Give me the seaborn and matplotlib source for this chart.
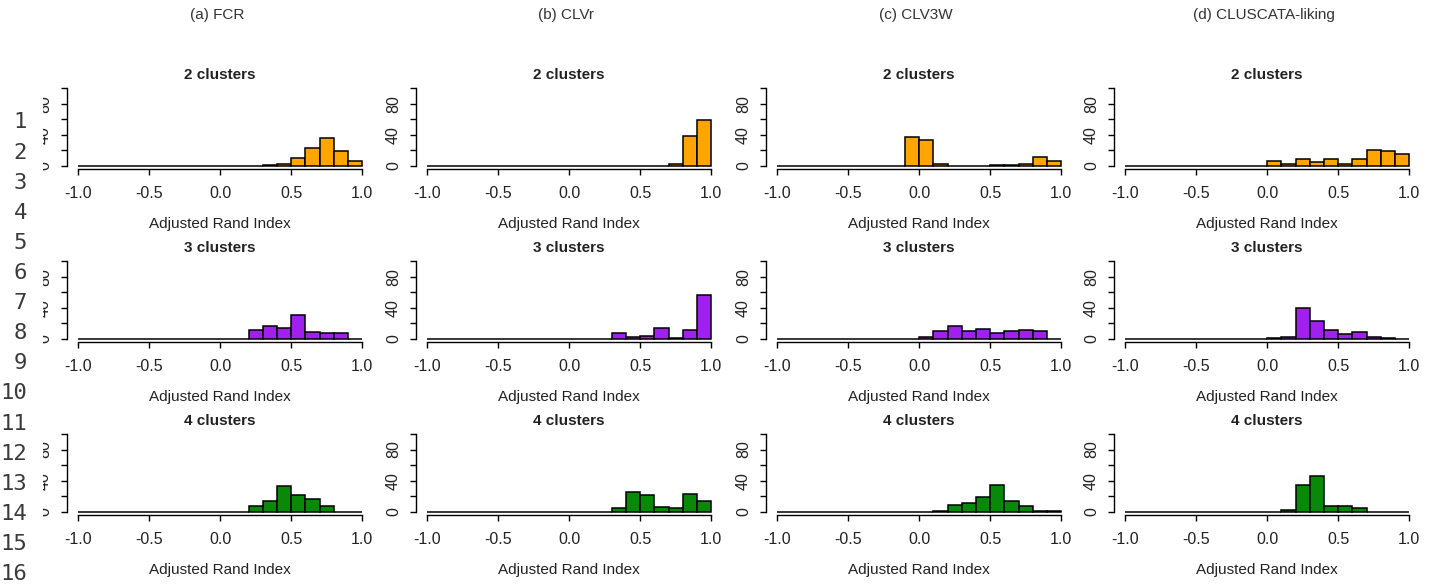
import numpy as np
import pandas as pd
import matplotlib
matplotlib.use("Agg")
import matplotlib.pyplot as plt
from matplotlib.patches import Rectangle
import seaborn as sns

# histogram counts, 20 bins of width 0.1 from -1.0 to 1.0
fcr_k2 = [0, 0, 0, 0, 0, 0, 0, 0, 0, 0, 0, 0, 0, 1, 3, 10, 23, 36, 19, 6]
fcr_k3 = [0, 0, 0, 0, 0, 0, 0, 0, 0, 0, 0, 0, 12, 17, 14, 31, 9, 8, 8, 0]
fcr_k4 = [0, 0, 0, 0, 0, 0, 0, 0, 0, 0, 0, 0, 8, 14, 33, 22, 17, 8, 0, 0]

clvr_k2 = [0, 0, 0, 0, 0, 0, 0, 0, 0, 0, 0, 0, 0, 0, 0, 0, 0, 2, 39, 59]
clvr_k3 = [0, 0, 0, 0, 0, 0, 0, 0, 0, 0, 0, 0, 0, 8, 3, 4, 14, 1, 12, 57]
clvr_k4 = [0, 0, 0, 0, 0, 0, 0, 0, 0, 0, 0, 0, 0, 5, 25, 22, 6, 5, 23, 14]

clv3w_k2 = [0, 0, 0, 0, 0, 0, 0, 0, 0, 37, 33, 3, 0, 0, 0, 1, 1, 3, 12, 7]
clv3w_k3 = [0, 0, 0, 0, 0, 0, 0, 0, 0, 0, 2, 10, 17, 10, 13, 8, 10, 12, 10, 0]
clv3w_k4 = [0, 0, 0, 0, 0, 0, 0, 0, 0, 0, 0, 1, 9, 12, 19, 34, 14, 8, 1, 1]

clus_k2 = [0, 0, 0, 0, 0, 0, 0, 0, 0, 0, 6, 3, 9, 5, 9, 3, 9, 21, 19, 16]
clus_k3 = [0, 0, 0, 0, 0, 0, 0, 0, 0, 0, 1, 3, 40, 23, 12, 6, 9, 3, 1, 0]
clus_k4 = [0, 0, 0, 0, 0, 0, 0, 0, 0, 0, 0, 3, 34, 46, 7, 7, 5, 0, 0, 0]

methods = ["(a) FCR", "(b) CLVr", "(c) CLV3W", "(d) CLUSCATA-liking"]
counts = [
    [fcr_k2, fcr_k3, fcr_k4],
    [clvr_k2, clvr_k3, clvr_k4],
    [clv3w_k2, clv3w_k3, clv3w_k4],
    [clus_k2, clus_k3, clus_k4],
]
row_titles = ["2 clusters", "3 clusters", "4 clusters"]
row_colors = ["#FFA500", "#A020F0", "#088A08"]

centers = np.round(np.arange(-0.95, 1.0, 0.1), 2)

sns.set_style("white")
plt.rcParams["font.family"] = ["Liberation Sans", "DejaVu Sans"]

W, H = 1439, 584
fig = plt.figure(figsize=(W / 100, H / 100), dpi=100)

col_left = [66.6, 415.6, 765.6, 1113.6]
row_top = [84.9, 257.9, 430.8]
ax_w, ax_h = 307, 84.2
txt = "#222222"

for c, method in enumerate(methods):
    for r in range(3):
        ax = fig.add_axes([col_left[c] / W, 1 - (row_top[r] + ax_h) / H, ax_w / W, ax_h / H])
        df = pd.DataFrame({"ari": centers, "n": counts[c][r]})
        sns.histplot(data=df, x="ari", weights="n", binwidth=0.1, binrange=(-1, 1),
                     color=row_colors[r], edgecolor="black", linewidth=1.1, alpha=1, ax=ax)
        ax.set_xlim(-1.08, 1.08)
        ax.set_ylim(-4, 104)
        ax.set_xticks([-1, -0.5, 0, 0.5, 1])
        ax.set_xticklabels(["-1.0", "-0.5", "0.0", "0.5", "1.0"])
        ax.set_yticks([0, 20, 40, 60, 80, 100])
        ax.set_yticklabels(["0", "", "40", "", "80", ""], rotation=90, va="center")
        for s in ["top", "right"]:
            ax.spines[s].set_visible(False)
        ax.spines["left"].set_bounds(0, 100)
        ax.spines["bottom"].set_bounds(-1, 1)
        for s in ["left", "bottom"]:
            ax.spines[s].set_color("black")
            ax.spines[s].set_linewidth(1.0)
        ax.tick_params(axis="both", length=4.5, width=1.0, color="black",
                       labelsize=11.5, labelcolor=txt, left=True, bottom=True)
        ax.tick_params(axis="x", pad=7.5)
        ax.tick_params(axis="y", pad=6)
        ax.set_ylabel("")
        ax.set_xlabel("Adjusted Rand Index", fontsize=11, color=txt, labelpad=12)
        ax.set_title(row_titles[r], fontsize=11, fontweight="bold", color=txt, pad=4)
        ax.patch.set_alpha(0)
    fig.text((col_left[c] + ax_w / 2 - 3) / W, 1 - 15 / H, method,
             ha="center", va="center", fontsize=11, color="#333333")

# line-number gutter on the left edge
fig.add_artist(Rectangle((0, 0), 43 / W, 1, transform=fig.transFigure,
                         facecolor="white", edgecolor="none", zorder=10))
for n in range(1, 17):
    y = 122.5 + (n - 1) * 30.1
    fig.text(27 / W, 1 - y / H, str(n), ha="right", va="center",
             fontsize=16, family="DejaVu Sans Mono", color="#3a3a3a", zorder=11)

fig.savefig("out.png", dpi=100, facecolor="white")
